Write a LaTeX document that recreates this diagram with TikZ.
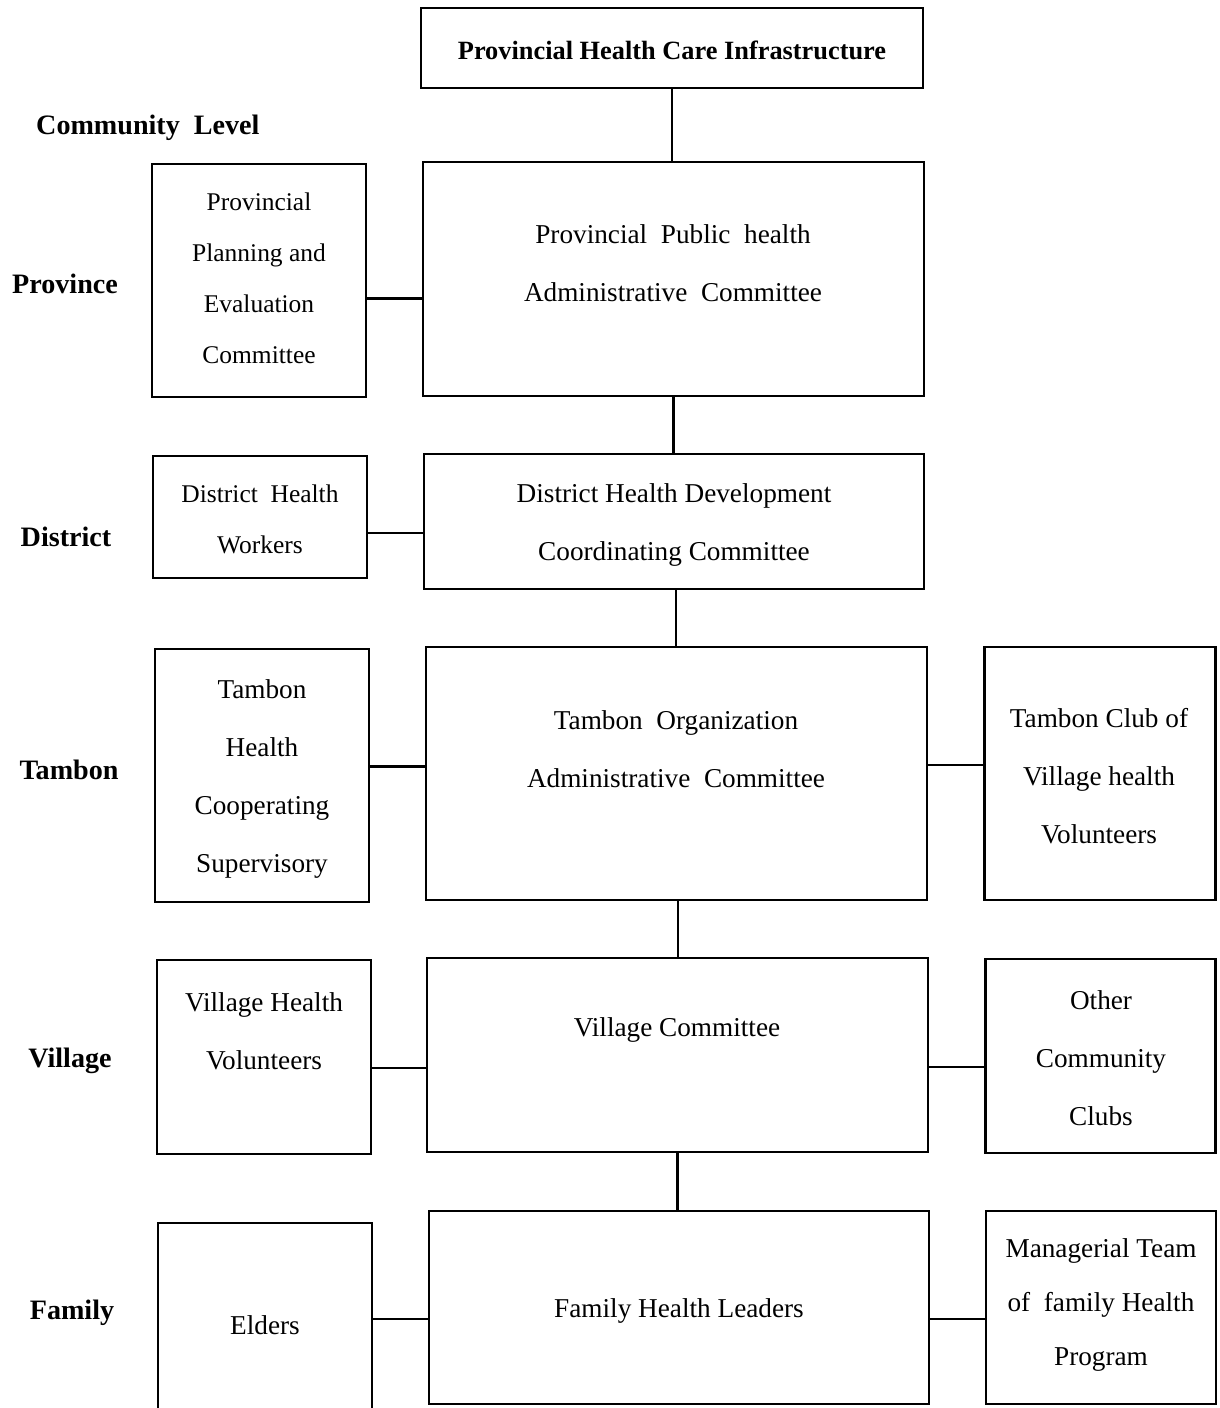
\documentclass[tikz,border=0pt]{standalone}
\usepackage{fontspec}
\setmainfont{Liberation Serif}
\usetikzlibrary{positioning}
\tikzset{
  box/.style={draw, line width=1.3pt, inner sep=0pt},
  txt/.style={align=center, font=\fontsize{15.5}{33}\selectfont},
  smalltxt/.style={align=center, font=\fontsize{14.5}{29}\selectfont},
  lvl/.style={font=\fontsize{16}{19}\selectfont\bfseries},
  link/.style={line width=1.2pt},
}
\begin{document}
\begin{tikzpicture}[x=0.02cm, y=-0.02cm]
\clip (0,0) rectangle (1219,1408);
% boxes
\node[box, minimum width=10.04cm, minimum height=1.6cm] (title) at (672,48) {};
\node[box, minimum width=4.28cm, minimum height=4.66cm] (ppec) at (259,280.5) {};
\node[box, minimum width=10.02cm, minimum height=4.68cm] (pphac) at (673.5,279) {};
\node[box, minimum width=4.28cm, minimum height=2.44cm] (dhw) at (260,517) {};
\node[box, minimum width=10.0cm, minimum height=2.7cm] (dhdcc) at (674,521.5) {};
\node[box, minimum width=4.28cm, minimum height=5.06cm] (thcs) at (262,775.5) {};
\node[box, minimum width=10.02cm, minimum height=5.06cm] (toac) at (676.5,773.5) {};
\node[box, minimum width=4.62cm, minimum height=5.06cm] (tcvhv) at (1100,773.5) {};
\node[box, minimum width=4.28cm, minimum height=3.88cm] (vhv) at (264,1057) {};
\node[box, minimum width=10.02cm, minimum height=3.88cm] (vc) at (677.5,1055) {};
\node[box, minimum width=4.6cm, minimum height=3.88cm] (occ) at (1100.5,1056) {};
\node[box, minimum width=4.28cm, minimum height=4.34cm] (eld) at (265,1331.5) {};
\node[box, minimum width=10.0cm, minimum height=3.86cm] (fhl) at (679,1307.5) {};
\node[box, minimum width=4.6cm, minimum height=3.86cm] (mtfhp) at (1101,1307.5) {};
% texts
\node[txt, font=\fontsize{15}{18}\selectfont\bfseries] (title-t) at (672,50) {Provincial Health Care Infrastructure};
\node[lvl, anchor=west] (comm) at (30,128) {Community\ \ Level};
\node[smalltxt] (ppec-t) at (259,278) {Provincial\\Planning and\\Evaluation\\Committee};
\node[txt] (pphac-t) at (673,263) {Provincial\ \ Public\ \ health\\Administrative\ \ Committee};
\node[smalltxt] (dhw-t) at (260,519) {District\ \ Health\\Workers};
\node[txt] (dhdcc-t) at (674,525) {District Health Development\\Coordinating Committee};
\node[txt] (thcs-t) at (262,779) {Tambon\\Health\\Cooperating\\Supervisory};
\node[txt] (toac-t) at (676,749) {Tambon\ \ Organization\\Administrative\ \ Committee};
\node[txt] (tcvhv-t) at (1099,776) {Tambon Club of\\Village health\\Volunteers};
\node[txt] (vhv-t) at (264,1031) {Village Health\\Volunteers};
\node[txt] (vc-t) at (677,1030) {Village Committee};
\node[txt] (occ-t) at (1101,1058) {Other\\Community\\Clubs};
\node[txt] (eld-t) at (265,1325) {Elders};
\node[txt] (fhl-t) at (679,1311) {Family Health Leaders};
\node[txt, font=\fontsize{15.5}{31}\selectfont] (mtfhp-t) at (1101,1305) {Managerial Team\\of\ \ family Health\\Program};
% level labels
\node[lvl] (prov) at (65,284) {Province};
\node[lvl] (dist) at (66,537) {District};
\node[lvl] (tamb) at (69,770) {Tambon};
\node[lvl] (vill) at (70,1061) {Village};
\node[lvl] (fami) at (72,1313) {Family};
% connectors
\draw[link] (title.south) -- (title.south |- pphac.north);
\draw[link] (pphac.south) -- (pphac.south |- dhdcc.north);
\draw[link] ([xshift=0.04cm]dhdcc.south) -- ([xshift=0.04cm]dhdcc.south |- toac.north);
\draw[link] ([xshift=0.03cm]toac.south) -- ([xshift=0.03cm]toac.south |- vc.north);
\draw[link] (vc.south) -- (vc.south |- fhl.north);
\draw[link] ([yshift=-0.36cm]ppec.east) -- ([yshift=-0.36cm]ppec.east -| pphac.west);
\draw[link] ([yshift=-0.32cm]dhw.east) -- ([yshift=-0.32cm]dhw.east -| dhdcc.west);
\draw[link] ([yshift=0.18cm]thcs.east) -- ([yshift=0.18cm]thcs.east -| toac.west);
\draw[link] ([yshift=0.17cm]toac.east) -- ([yshift=0.17cm]toac.east -| tcvhv.west);
\draw[link] ([yshift=-0.22cm]vhv.east) -- ([yshift=-0.22cm]vhv.east -| vc.west);
\draw[link] ([yshift=-0.24cm]vc.east) -- ([yshift=-0.24cm]vc.east -| occ.west);
\draw[link] ([yshift=0.25cm]eld.east) -- ([yshift=0.25cm]eld.east -| fhl.west);
\draw[link] ([yshift=-0.23cm]fhl.east) -- ([yshift=-0.23cm]fhl.east -| mtfhp.west);
\end{tikzpicture}
\end{document}
